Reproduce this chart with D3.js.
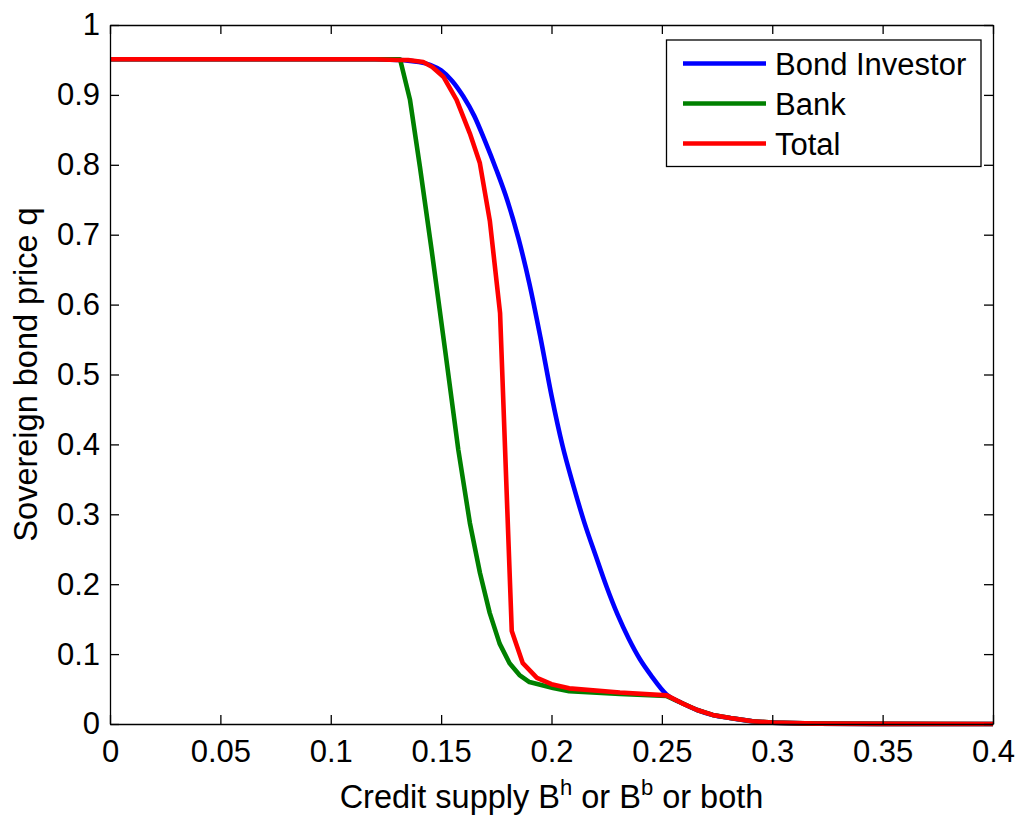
<!DOCTYPE html>
<html>
<head>
<meta charset="utf-8">
<script src="https://cdn.jsdelivr.net/npm/d3@7"></script>
<style>
  html, body { margin: 0; padding: 0; background: #fff; }
  svg { display: block; }
  text { font-family: "Liberation Sans", Arial, Helvetica, sans-serif; fill: #000; }
</style>
</head>
<body>
<svg id="chart" width="1021" height="817"></svg>
<script>
// ---- Data ----
const investorX = [0, 0.12, 0.13, 0.135, 0.14, 0.145, 0.15, 0.155, 0.16, 0.165, 0.17, 0.175, 0.18, 0.185, 0.19, 0.195, 0.2, 0.205, 0.21, 0.215, 0.22, 0.225, 0.23, 0.235, 0.24, 0.245, 0.2522];
const investorY = [0.951, 0.951, 0.950, 0.949, 0.947, 0.943, 0.935, 0.920, 0.898, 0.870, 0.833, 0.793, 0.749, 0.695, 0.630, 0.553, 0.470, 0.398, 0.340, 0.287, 0.241, 0.196, 0.156, 0.122, 0.093, 0.070, 0.042];

const bankX = [0, 0.1314, 0.1359, 0.1404, 0.1457, 0.1518, 0.1578, 0.163, 0.1676, 0.172, 0.1765, 0.181, 0.1855, 0.190, 0.2007, 0.208, 0.231, 0.2522];
const bankY = [0.951, 0.951, 0.893, 0.797, 0.678, 0.535, 0.392, 0.288, 0.216, 0.159, 0.115, 0.087, 0.070, 0.060, 0.0515, 0.047, 0.043, 0.040];

const totalX = [0, 0.12, 0.13, 0.135, 0.1419, 0.146, 0.151, 0.157, 0.163, 0.1675, 0.1721, 0.1767, 0.182, 0.187, 0.1934, 0.2, 0.208, 0.231, 0.2522];
const totalY = [0.951, 0.951, 0.950, 0.950, 0.947, 0.940, 0.926, 0.893, 0.845, 0.803, 0.719, 0.588, 0.133, 0.087, 0.066, 0.057, 0.051, 0.045, 0.041];

// common tail once all curves merge
const tailX = [0.259, 0.266, 0.273, 0.281, 0.291, 0.30, 0.32, 0.35, 0.4];
const tailY = [0.030, 0.020, 0.013, 0.0086, 0.004, 0.002, 0.0006, 0.0002, 0.0];

const xTicks = [0, 0.05, 0.1, 0.15, 0.2, 0.25, 0.3, 0.35, 0.4];
const xTickLabels = ["0", "0.05", "0.1", "0.15", "0.2", "0.25", "0.3", "0.35", "0.4"];
const yTicks = [0, 0.1, 0.2, 0.3, 0.4, 0.5, 0.6, 0.7, 0.8, 0.9, 1];
const yTickLabels = ["0", "0.1", "0.2", "0.3", "0.4", "0.5", "0.6", "0.7", "0.8", "0.9", "1"];

const seriesNames = ["Bond Investor", "Bank", "Total"];
const seriesColors = ["#0000ff", "#008000", "#ff0000"];

// ---- Layout ----
const svg = d3.select("#chart");
const L = 110, R = 993, T = 25, B = 724;
const x = d3.scaleLinear().domain([0, 0.4]).range([L, R]);
const y = d3.scaleLinear().domain([0, 1]).range([B, T]);

const fontSize = 31;
const labelSize = 32.5;

function zip(xs, ys) { return xs.map((v, i) => [v, ys[i]]); }
const series = [
  zip(investorX.concat(tailX), investorY.concat(tailY)),
  zip(bankX.concat(tailX), bankY.concat(tailY)),
  zip(totalX.concat(tailX), totalY.concat(tailY))
];
const curves = [d3.curveMonotoneX, d3.curveLinear, d3.curveLinear];

// plot box
svg.append("rect").attr("x", L).attr("y", T).attr("width", R - L).attr("height", B - T)
  .attr("fill", "#fff");

// series
const g = svg.append("g");
series.forEach((s, i) => {
  const line = d3.line().x(d => x(d[0])).y(d => y(d[1])).curve(curves[i]);
  g.append("path").datum(s).attr("d", line)
    .attr("fill", "none").attr("stroke", seriesColors[i])
    .attr("stroke-width", 4.6).attr("stroke-linejoin", "round").attr("stroke-linecap", "butt");
});

// axes
const tickLen = 9;
const xAxis = svg.append("g").attr("transform", `translate(0,${B})`)
  .call(d3.axisBottom(x).tickValues(xTicks).tickFormat((d, i) => xTickLabels[i])
    .tickSizeInner(-tickLen).tickSizeOuter(0).tickPadding(16));
const xAxisTop = svg.append("g").attr("transform", `translate(0,${T})`)
  .call(d3.axisTop(x).tickValues(xTicks).tickFormat("")
    .tickSizeInner(-tickLen).tickSizeOuter(0));
const yAxis = svg.append("g").attr("transform", `translate(${L},0)`)
  .call(d3.axisLeft(y).tickValues(yTicks).tickFormat((d, i) => yTickLabels[i])
    .tickSizeInner(-tickLen).tickSizeOuter(0).tickPadding(10));
const yAxisRight = svg.append("g").attr("transform", `translate(${R},0)`)
  .call(d3.axisRight(y).tickValues(yTicks).tickFormat("")
    .tickSizeInner(-tickLen).tickSizeOuter(0));

[xAxis, xAxisTop, yAxis, yAxisRight].forEach(a => {
  a.selectAll("path.domain").attr("stroke", "#000").attr("stroke-width", 1.3);
  a.selectAll(".tick line").attr("stroke", "#000").attr("stroke-width", 1.3);
  a.selectAll(".tick text").attr("font-size", fontSize)
    .attr("font-family", '"Liberation Sans", Arial, sans-serif').attr("fill", "#000");
});

// axis labels
const xl = svg.append("text").attr("x", (L + R) / 2).attr("y", 808)
  .attr("text-anchor", "middle").attr("font-size", labelSize);
xl.append("tspan").text("Credit supply B");
xl.append("tspan").attr("font-size", 22).attr("dy", -13).text("h");
xl.append("tspan").attr("dy", 13).text(" or B");
xl.append("tspan").attr("font-size", 22).attr("dy", -13).text("b");
xl.append("tspan").attr("dy", 13).text(" or both");

svg.append("text").attr("transform", `translate(37,${(T + B) / 2}) rotate(-90)`)
  .attr("text-anchor", "middle").attr("font-size", labelSize)
  .text("Sovereign bond price q");

// legend
const lg = svg.append("g");
lg.append("rect").attr("x", 666.5).attr("y", 40).attr("width", 314.5).attr("height", 126.5)
  .attr("fill", "#fff").attr("stroke", "#000").attr("stroke-width", 1.3);
seriesNames.forEach((name, i) => {
  const cy = 63.5 + i * 40;
  lg.append("line").attr("x1", 683).attr("x2", 766).attr("y1", cy).attr("y2", cy)
    .attr("stroke", seriesColors[i]).attr("stroke-width", 4.6);
  lg.append("text").attr("x", 775).attr("y", cy + 11.5).attr("font-size", fontSize).text(name);
});
</script>
</body>
</html>
